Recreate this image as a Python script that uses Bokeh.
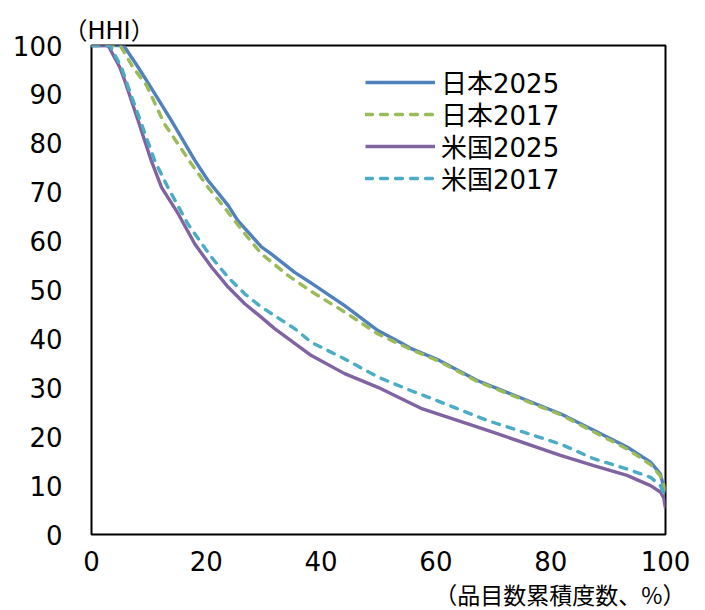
from bokeh.plotting import figure
from bokeh.models import Range1d, FixedTicker, Title, Legend, LegendItem
from bokeh.embed import file_html
from bokeh.resources import INLINE

# ---- data ----
jp2025_x = [0, 5.6, 8.1, 9.6, 11.1, 13.9, 18.0, 20.3, 23.8, 25.5, 29.6, 31.3, 35.4, 38.3,
            44.1, 49.9, 53.9, 55.7, 60.6, 67.2, 81.7, 87.5, 93.3, 97.4, 99.1, 99.7, 100]
jp2025_y = [100, 100, 95.6, 92.8, 90.0, 84.7, 76.5, 72.4, 67.3, 64.2, 58.8, 57.4, 53.6, 51.4,
            46.8, 41.7, 39.2, 38.0, 35.6, 31.5, 24.7, 21.3, 17.9, 14.8, 12.4, 9.7, 8.4]

jp2017_x = [0, 5.0, 7.2, 9.6, 12.7, 17.4, 20.3, 23.8, 26.7, 29.6, 34.2, 38.3, 44.1, 49.9,
            55.7, 60.6, 67.2, 81.7, 87.5, 93.3, 97.4, 99.1, 99.7, 100]
jp2017_y = [100, 100, 95.6, 91.8, 84.0, 75.8, 71.0, 65.9, 61.5, 57.4, 53.0, 49.7, 45.5, 41.0,
            37.8, 35.4, 31.3, 24.5, 21.0, 17.5, 14.3, 12.0, 10.3, 9.2]

us2025_x = [0, 2.9, 4.9, 5.8, 8.1, 10.4, 12.2, 15.1, 18.0, 20.9, 23.8, 26.7, 29.6, 31.9,
            38.3, 44.1, 49.9, 53.9, 57.4, 69.0, 81.7, 87.5, 93.3, 97.4, 99.1, 99.7, 100]
us2025_y = [100, 100, 95.6, 92.8, 84.7, 76.5, 71.0, 65.6, 59.4, 54.7, 50.6, 47.2, 44.4, 42.1,
            36.6, 32.9, 30.1, 27.8, 25.8, 21.3, 16.2, 14.1, 12.1, 10.0, 8.7, 7.5, 5.3]

us2017_x = [0, 3.2, 5.2, 6.4, 8.7, 11.0, 13.3, 16.8, 20.9, 23.8, 26.7, 29.6, 35.4, 38.3,
            44.1, 49.9, 55.7, 58.6, 69.0, 81.7, 87.5, 93.3, 97.4, 99.1, 100]
us2017_y = [100, 100, 95.6, 91.5, 84.0, 76.5, 71.0, 63.5, 56.7, 52.6, 49.2, 46.5, 42.1, 39.3,
            35.9, 32.2, 29.4, 28.1, 23.3, 18.5, 15.5, 13.4, 11.7, 10.0, 7.6]

series_names = ["日本2025", "日本2017", "米国2025", "米国2017"]
x_ticks = [0, 20, 40, 60, 80, 100]
y_ticks = [0, 10, 20, 30, 40, 50, 60, 70, 80, 90, 100]
y_unit_label = "（HHI）"
x_unit_label = "（品目数累積度数、%）"

FONT = "'DejaVu Sans', 'Noto Sans CJK JP'"
CJK = "'Noto Sans CJK JP'"

p = figure(frame_width=574, frame_height=489,
           min_border_left=91, min_border_right=32, min_border_top=45, min_border_bottom=66,
           x_range=Range1d(0, 100), y_range=Range1d(0, 100),
           output_backend="svg", toolbar_location=None)

p.xgrid.visible = False
p.ygrid.visible = False
p.outline_line_color = "black"
p.outline_line_width = 2
p.background_fill_color = "white"
p.border_fill_color = "white"

for ax in (p.xaxis[0], p.yaxis[0]):
    ax.axis_line_color = None
    ax.major_tick_line_color = None
    ax.minor_tick_line_color = None
    ax.major_tick_out = 0
    ax.major_tick_in = 0
    ax.minor_tick_out = 0
    ax.major_label_text_font = FONT
    ax.major_label_text_font_size = "26px"
    ax.major_label_text_color = "black"

p.xaxis.ticker = FixedTicker(ticks=x_ticks)
p.yaxis.ticker = FixedTicker(ticks=y_ticks)
p.yaxis.major_label_standoff = 29
p.xaxis.major_label_standoff = 16

r1 = p.line(jp2025_x, jp2025_y, line_color="#4F81BD", line_width=3.4)
r2 = p.line(jp2017_x, jp2017_y, line_color="#9BBB59", line_width=3.4, line_dash="7 8",
            line_cap="round")
r3 = p.line(us2025_x, us2025_y, line_color="#8064A2", line_width=3.4)
r4 = p.line(us2017_x, us2017_y, line_color="#4BACC6", line_width=3.4, line_dash="7 8",
            line_cap="round")

# one single-entry legend per row so the row pitch matches the reference
legend_bottoms = [434, 402, 370, 338]
for name, rend, yb in zip(series_names, [r1, r2, r3, r4], legend_bottoms):
    lg = Legend(items=[LegendItem(label=name, renderers=[rend])],
                location=(274, yb), padding=0, margin=0, spacing=0,
                glyph_width=70, glyph_height=28, label_height=28, label_standoff=6,
                border_line_color=None, background_fill_alpha=0,
                label_text_font=FONT, label_text_font_size="26px",
                label_text_color="black")
    p.add_layout(lg)

p.add_layout(Title(text=y_unit_label, align="left", offset=-28, standoff=2,
                   text_font=FONT, text_font_size="24px", text_font_style="normal",
                   text_color="black"), "above")
p.add_layout(Title(text=x_unit_label, align="right", offset=-20, standoff=2,
                   text_font=CJK, text_font_size="23px", text_font_style="normal",
                   text_color="black"), "below")

open("out.html", "w").write(file_html(p, INLINE))
